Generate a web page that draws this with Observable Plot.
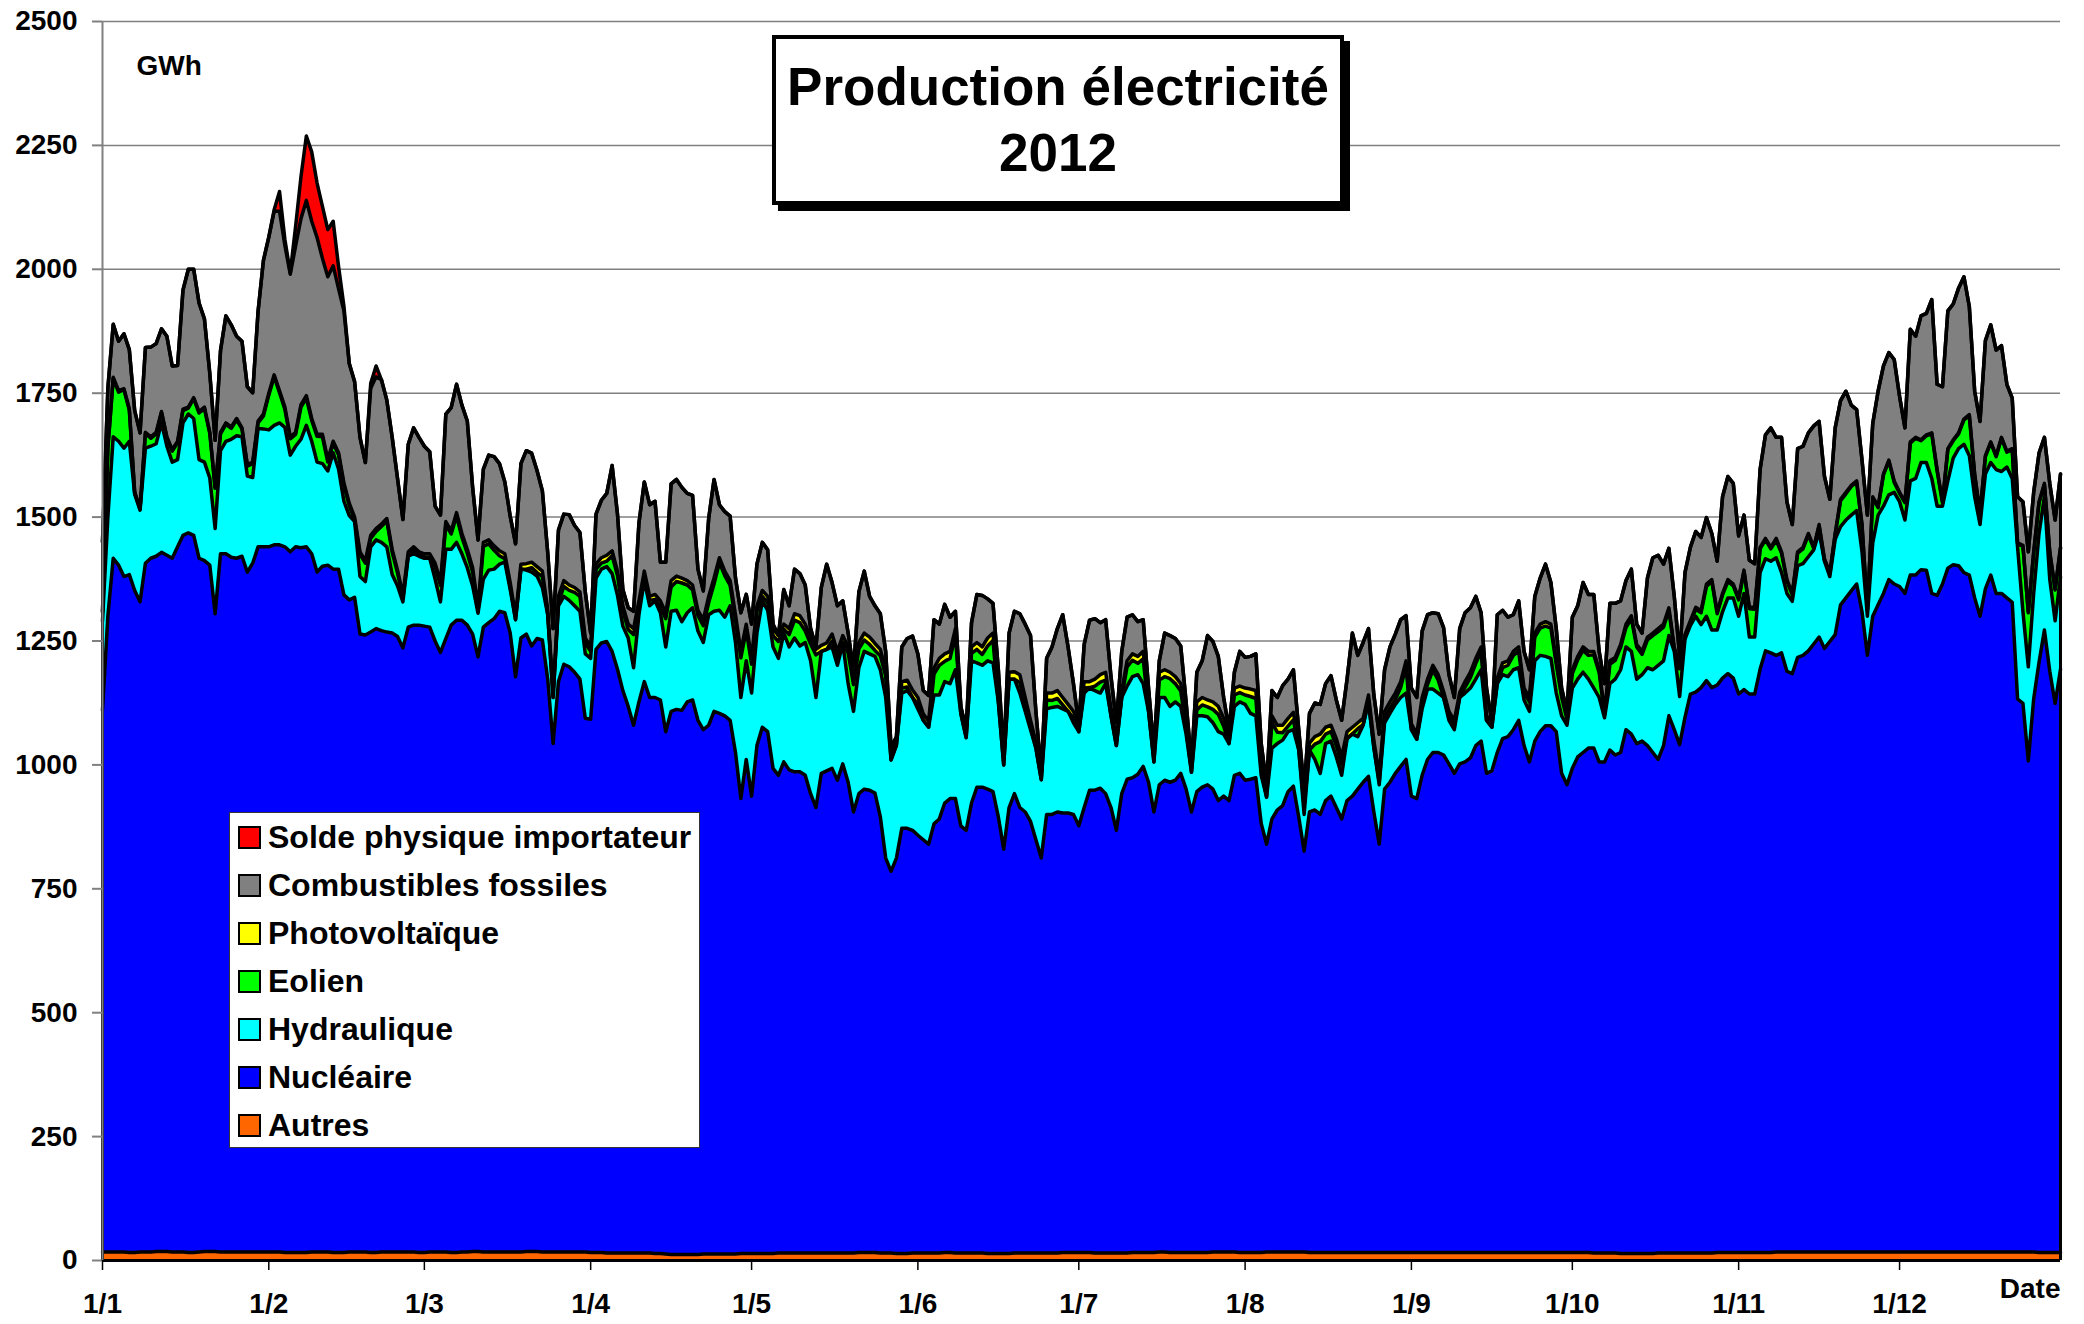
<!DOCTYPE html>
<html><head><meta charset="utf-8">
<script src="https://cdn.jsdelivr.net/npm/d3@7"></script>
<script src="https://cdn.jsdelivr.net/npm/@observablehq/plot@0.6"></script>
<style>
body{margin:0;background:#fff;}
#wrap{position:relative;width:2084px;height:1324px;font-family:"Liberation Sans",Arial,sans-serif;font-weight:bold;color:#000;}
#title{position:absolute;left:772px;top:35px;width:572px;height:170px;box-sizing:border-box;border:4px solid #000;box-shadow:6px 6px 0 #000;background:#fff;text-align:center;font-size:53px;line-height:66px;padding-top:15px;}
#legend{position:absolute;left:229px;top:812px;width:471px;height:336px;box-sizing:border-box;border:1.5px solid #333;background:#fff;padding-top:0px;}
.row{position:relative;height:48px;font-size:32px;line-height:48px;}
.sw{position:absolute;left:8px;top:13px;width:23px;height:23px;box-sizing:border-box;border:2.5px solid #000;}
.lb{position:absolute;left:38px;top:0;white-space:nowrap;}
</style></head><body><div id="wrap"></div>
<script>
// Series names (stack order bottom -> top) and colours
const seriesNames = ["Autres","Nucléaire","Hydraulique","Eolien","Photovoltaïque","Combustibles fossiles","Solde physique importateur"];
const seriesColors = ["#FF6600","#0000FF","#00FFFF","#00FF00","#FFFF00","#808080","#FF0000"];
const legendOrder = ["Solde physique importateur","Combustibles fossiles","Photovoltaïque","Eolien","Hydraulique","Nucléaire","Autres"];
const yTicks = [0,250,500,750,1000,1250,1500,1750,2000,2250,2500];
const monthLabels = ["1/1","1/2","1/3","1/4","1/5","1/6","1/7","1/8","1/9","1/10","1/11","1/12"];

// Daily values 2012 (GWh), one line per month
const autres = [
17,17,17,17,17,16,16,17,17,17,18,18,18,17,17,17,16,16,17,18,18,18,17,17,17,17,17,17,17,17,17,
17,17,17,16,16,16,16,16,17,17,17,17,16,16,16,17,17,17,17,16,16,17,17,17,17,17,17,17,16,
16,17,17,17,17,16,16,17,17,18,18,17,17,17,17,17,17,17,17,18,18,18,17,17,17,17,17,17,17,17,17,
16,16,16,15,15,15,15,15,15,15,15,15,14,14,13,12,12,12,12,12,12,13,13,13,13,13,13,13,14,14,
14,14,14,14,14,15,15,15,15,15,15,15,15,15,15,15,15,15,15,15,16,16,16,16,15,15,15,14,14,14,15,
15,15,15,15,15,16,16,15,15,15,15,15,15,14,14,14,14,14,15,15,15,15,15,15,15,15,15,16,16,16,
16,16,16,15,15,15,15,15,15,15,16,16,16,16,16,17,17,16,16,16,16,16,16,16,16,17,17,17,17,17,16,
16,16,16,16,17,17,17,17,17,17,17,17,16,16,16,16,16,16,16,16,16,16,16,16,16,16,16,16,16,16,16,
16,16,16,16,16,16,16,16,16,16,16,16,16,16,16,16,16,16,16,16,16,16,16,16,16,16,16,16,16,16,
16,16,16,16,15,15,15,15,15,14,14,14,14,14,14,14,15,15,15,15,15,15,15,15,15,15,15,16,16,16,16,
16,16,16,16,16,16,16,17,17,17,17,17,17,17,17,17,17,17,17,17,17,17,17,17,17,17,17,17,17,17,
17,17,17,17,17,17,17,17,17,17,17,17,17,17,17,17,17,17,17,17,17,17,17,17,17,17,16,16,16,16,16];

// Top of the blue band (Autres + Nucléaire)
const nucleaireTop = [
1110,1300,1417,1403,1380,1384,1352,1329,1407,1417,1421,1429,1423,1417,1440,1463,1468,1463,1417,1412,1403,1305,1426,1426,1419,1417,1421,1389,1407,1440,1440,
1440,1444,1444,1440,1430,1440,1438,1440,1426,1389,1401,1403,1395,1395,1343,1333,1338,1264,1262,1268,1275,1271,1268,1266,1259,1236,1278,1282,1282,
1280,1278,1250,1227,1255,1282,1292,1292,1282,1264,1218,1278,1287,1295,1310,1307,1266,1178,1256,1264,1240,1255,1252,1173,1043,1168,1203,1198,1187,1173,1094,
1092,1233,1246,1249,1229,1193,1150,1118,1080,1127,1168,1136,1136,1131,1067,1108,1112,1110,1127,1131,1090,1071,1080,1108,1104,1099,1090,1025,932,1011,
937,1039,1076,1067,993,979,1006,990,986,986,979,942,914,983,988,993,969,1002,965,905,942,951,949,943,895,812,785,812,872,872,868,
858,849,840,881,891,923,932,932,877,868,923,955,955,951,946,895,830,914,942,914,905,886,849,812,900,900,905,903,903,900,
877,914,949,949,953,942,914,868,942,971,974,981,997,965,905,960,969,965,969,983,951,905,946,955,960,951,928,937,928,979,983,
969,971,974,882,840,891,909,918,946,957,895,826,905,909,900,928,937,914,891,928,937,951,965,977,905,840,951,965,983,997,1011,
937,932,979,1011,1025,1025,1020,1002,983,1002,1006,1014,1039,1048,983,988,1025,1053,1057,1071,1090,1039,1006,1048,1067,1079,1079,1067,983,960,
993,1016,1025,1034,1034,1006,1006,1030,1020,1025,1071,1062,1043,1048,1039,1025,1011,1039,1099,1071,1041,1096,1143,1147,1156,1170,1156,1161,1175,1184,1175,
1143,1152,1143,1143,1193,1230,1226,1221,1226,1189,1184,1217,1221,1230,1244,1258,1235,1249,1263,1323,1337,1351,1365,1309,1221,1300,1323,1346,1374,1365,
1360,1346,1383,1383,1394,1393,1346,1342,1365,1397,1404,1402,1388,1383,1337,1300,1355,1383,1346,1346,1337,1328,1133,1124,1008,1133,1207,1272,1189,1124,1193];

// Top of the cyan band (… + Hydraulique)
const hydrauliqueTop = [
1290,1500,1662,1653,1639,1653,1546,1514,1639,1643,1648,1690,1643,1611,1616,1690,1708,1699,1616,1611,1579,1477,1634,1653,1657,1664,1662,1583,1580,1679,1678,
1676,1685,1690,1681,1625,1643,1657,1685,1653,1611,1608,1593,1630,1597,1532,1503,1491,1380,1370,1440,1454,1449,1440,1384,1361,1329,1421,1426,1421,
1417,1417,1375,1329,1435,1435,1449,1426,1398,1361,1306,1375,1393,1395,1405,1409,1354,1293,1395,1393,1389,1381,1358,1303,1136,1321,1340,1332,1321,1310,1224,
1215,1377,1395,1400,1386,1342,1280,1256,1196,1303,1372,1321,1331,1307,1238,1310,1312,1289,1307,1317,1270,1247,1303,1310,1312,1298,1321,1247,1136,1210,
1145,1266,1331,1312,1238,1215,1266,1238,1256,1240,1247,1210,1136,1229,1233,1238,1201,1245,1164,1108,1196,1229,1224,1219,1192,1136,1010,1040,1145,1150,1136,
1113,1090,1076,1141,1141,1168,1164,1192,1104,1055,1210,1206,1201,1210,1206,1127,1000,1173,1173,1145,1108,1071,1034,970,1113,1116,1118,1113,1108,1085,
1067,1145,1155,1150,1145,1164,1099,1039,1136,1159,1178,1182,1164,1108,1006,1136,1136,1118,1127,1118,1062,985,1099,1099,1097,1085,1067,1062,1043,1118,1127,
1122,1104,1099,979,935,1034,1043,1050,1067,1071,1030,900,1030,1011,983,1043,1048,1016,979,1053,1062,1057,1080,1127,1035,960,1085,1104,1122,1136,1145,
1071,1052,1113,1153,1153,1145,1136,1090,1071,1136,1145,1155,1173,1192,1090,1076,1164,1182,1178,1192,1196,1131,1108,1210,1221,1219,1215,1145,1099,1080,
1155,1173,1187,1173,1155,1136,1095,1164,1173,1192,1238,1229,1173,1182,1196,1192,1201,1210,1261,1229,1138,1254,1281,1300,1283,1300,1272,1272,1309,1337,1337,
1300,1346,1258,1258,1388,1416,1411,1418,1388,1346,1330,1402,1406,1420,1434,1470,1411,1380,1455,1481,1494,1504,1513,1430,1300,1448,1504,1522,1545,1550,
1531,1494,1573,1578,1610,1610,1578,1522,1522,1573,1619,1638,1647,1624,1541,1485,1587,1610,1596,1592,1601,1578,1439,1309,1198,1346,1467,1541,1374,1291,1379];

// Top of the green + yellow bands (… + Eolien + Photovoltaïque)
const eolienPvTop = [
1310,1640,1782,1755,1759,1718,1551,1518,1671,1662,1671,1713,1662,1636,1653,1718,1722,1741,1713,1722,1671,1560,1671,1690,1682,1699,1680,1606,1611,1694,1708,
1750,1787,1755,1722,1662,1671,1727,1745,1699,1667,1667,1616,1653,1630,1569,1528,1500,1430,1412,1463,1477,1486,1497,1435,1393,1343,1430,1440,1430,
1426,1426,1407,1370,1491,1472,1509,1467,1435,1398,1319,1449,1454,1442,1432,1426,1368,1298,1400,1406,1409,1400,1391,1310,1145,1340,1372,1363,1358,1349,1256,
1238,1405,1418,1423,1432,1391,1321,1284,1275,1331,1391,1340,1344,1331,1307,1372,1381,1377,1372,1363,1312,1293,1340,1377,1418,1391,1372,1303,1229,1284,
1215,1321,1352,1340,1275,1261,1284,1275,1305,1301,1284,1256,1233,1238,1245,1264,1229,1261,1238,1173,1247,1266,1258,1245,1233,1192,1020,1050,1168,1171,1150,
1136,1099,1085,1196,1215,1224,1229,1275,1108,1065,1238,1247,1238,1256,1266,1136,1010,1187,1187,1182,1136,1090,1043,975,1145,1145,1150,1136,1122,1108,
1071,1168,1168,1173,1182,1187,1108,1043,1145,1210,1224,1219,1229,1122,1020,1187,1192,1187,1178,1164,1090,990,1127,1136,1131,1127,1118,1094,1057,1155,1159,
1155,1153,1150,1006,945,1099,1080,1080,1094,1106,1045,930,1043,1057,1062,1076,1080,1053,1016,1062,1076,1085,1094,1136,1043,979,1108,1127,1145,1168,1210,
1080,1062,1136,1173,1201,1182,1145,1108,1090,1145,1168,1187,1215,1238,1099,1085,1173,1206,1210,1229,1238,1155,1136,1266,1284,1289,1284,1210,1145,1100,
1192,1219,1238,1229,1229,1192,1108,1210,1217,1243,1284,1301,1243,1229,1258,1266,1275,1284,1317,1238,1198,1263,1291,1318,1311,1365,1374,1309,1346,1374,1365,
1337,1393,1318,1318,1439,1457,1439,1457,1430,1374,1346,1430,1439,1467,1439,1485,1416,1388,1467,1536,1550,1564,1573,1485,1314,1541,1522,1587,1615,1573,
1550,1531,1652,1661,1656,1666,1670,1596,1531,1638,1656,1670,1698,1707,1587,1508,1624,1652,1624,1661,1633,1638,1448,1443,1309,1430,1531,1568,1430,1355,1439];

// Photovoltaïque (thin yellow band)
const photovoltaique = [
2,2,2,3,2,2,3,2,2,3,3,2,2,3,3,3,2,2,3,3,2,2,3,3,3,3,2,3,3,4,4,
4,4,4,5,4,4,5,5,4,4,5,5,4,4,5,5,6,5,5,6,6,5,5,6,6,6,6,7,6,
6,7,7,8,7,6,7,8,8,9,9,8,8,9,10,10,9,8,10,11,11,12,11,10,11,12,12,11,10,9,10,
9,10,11,12,10,9,10,11,12,10,9,8,10,11,12,13,11,10,9,10,11,12,13,12,10,9,10,12,13,12,
12,11,12,13,14,12,10,12,13,14,14,12,11,12,13,14,15,14,12,11,13,14,15,14,13,12,10,11,13,14,15,
14,13,12,13,14,15,14,13,12,11,13,14,15,16,15,14,13,14,15,16,15,14,12,13,14,15,16,15,14,13,
14,13,12,14,15,16,15,14,13,12,13,14,15,16,17,16,14,13,14,15,16,17,16,15,14,15,16,16,15,14,13,
14,15,16,15,14,13,14,15,16,15,14,13,14,15,15,14,13,14,15,14,13,12,13,14,14,13,12,13,13,12,11,
12,11,12,11,10,11,12,11,10,10,11,11,10,9,10,10,11,10,9,8,9,10,9,8,8,9,8,7,8,8,
8,7,7,8,7,6,7,7,6,6,7,6,5,6,6,5,6,6,5,5,4,5,5,4,4,5,4,4,3,4,4,
4,3,3,4,3,3,3,4,3,3,3,3,3,3,2,3,3,3,2,3,3,2,3,2,2,3,3,2,2,3,
2,2,3,2,2,2,2,3,2,2,2,2,2,3,2,2,2,2,2,2,2,2,2,2,2,2,2,2,2,2,2];

// Solde physique importateur (red)
const solde = [
0,0,0,0,0,0,0,0,0,0,0,0,0,0,0,0,0,0,0,0,0,0,0,0,0,0,0,0,0,0,0,
0,3,40,12,3,40,85,130,140,110,105,95,90,45,10,0,0,0,0,10,22,0,0,0,0,0,0,0,0,
0,0,0,0,0,0,0,0,0,0,0,0,0,0,0,0,0,0,0,0,0,0,0,0,0,0,0,0,0,0,0,
0,0,0,0,0,0,0,0,0,0,0,0,0,0,0,0,0,0,0,0,0,0,0,0,0,0,0,0,0,0,
0,0,0,0,0,0,0,0,0,0,0,0,0,0,0,0,0,0,0,0,0,0,0,0,0,0,0,0,0,0,0,
0,0,0,0,0,0,0,0,0,0,0,0,0,0,0,0,0,0,0,0,0,0,0,0,0,0,0,0,0,0,
0,0,0,0,0,0,0,0,0,0,0,0,0,0,0,0,0,0,0,0,0,0,0,0,0,0,0,0,0,0,0,
0,0,0,0,0,0,0,0,0,0,0,0,0,0,0,0,0,0,0,0,0,0,0,0,0,0,0,0,0,0,0,
0,0,0,0,0,0,0,0,0,0,0,0,0,0,0,0,0,0,0,0,0,0,0,0,0,0,0,0,0,0,
0,0,0,0,0,0,0,0,0,0,0,0,0,0,0,0,0,0,0,0,0,0,0,0,0,0,0,0,0,0,0,
0,0,0,0,0,0,0,0,0,0,0,0,0,0,0,0,0,0,0,0,0,0,0,0,0,0,0,0,0,0,
0,0,0,0,0,0,0,0,0,0,0,0,0,0,0,0,0,0,0,0,0,0,0,0,0,0,0,0,0,0,0];

// Overall top of the stack (all sources incl. imports)
const totalTop = [
1450,1760,1889,1855,1870,1838,1715,1670,1842,1843,1850,1880,1865,1805,1806,1958,2000,2000,1932,1900,1790,1655,1836,1906,1888,1865,1855,1763,1751,1915,2018,
2065,2120,2157,2060,1993,2087,2187,2269,2237,2174,2127,2080,2097,2006,1926,1810,1773,1661,1610,1770,1805,1777,1736,1661,1578,1495,1647,1680,1661,
1643,1632,1522,1504,1708,1721,1768,1726,1694,1560,1454,1597,1625,1622,1608,1571,1502,1446,1608,1634,1629,1594,1553,1428,1275,1474,1506,1505,1483,1469,1349,
1266,1506,1534,1548,1604,1506,1354,1317,1310,1488,1571,1525,1532,1409,1409,1567,1576,1560,1548,1544,1395,1351,1497,1576,1525,1511,1502,1377,1307,1344,
1284,1405,1449,1434,1284,1261,1354,1321,1395,1386,1363,1275,1238,1358,1405,1368,1321,1331,1266,1192,1349,1391,1340,1321,1305,1229,1035,1057,1238,1255,1260,
1224,1150,1140,1293,1284,1324,1298,1310,1118,1071,1287,1344,1342,1335,1326,1192,1017,1266,1310,1305,1284,1261,1108,983,1215,1238,1275,1303,1238,1164,
1080,1243,1292,1295,1287,1293,1178,1085,1229,1298,1303,1289,1293,1155,1030,1210,1266,1261,1255,1240,1127,997,1187,1210,1261,1249,1219,1136,1071,1187,1229,
1217,1219,1224,1043,960,1150,1136,1160,1173,1192,1071,950,1104,1125,1122,1164,1180,1131,1090,1173,1266,1221,1247,1275,1141,1062,1192,1238,1264,1293,1301,
1155,1136,1270,1303,1307,1305,1277,1182,1136,1275,1307,1317,1340,1307,1155,1080,1303,1312,1298,1303,1331,1229,1192,1340,1377,1405,1368,1275,1155,1108,
1298,1321,1368,1344,1344,1229,1164,1326,1326,1331,1372,1395,1284,1266,1377,1418,1423,1405,1437,1340,1220,1388,1439,1471,1459,1499,1467,1411,1541,1582,1568,
1462,1504,1413,1406,1596,1666,1680,1661,1661,1531,1485,1638,1643,1670,1684,1693,1582,1536,1680,1735,1754,1726,1717,1615,1504,1689,1754,1805,1832,1818,
1744,1680,1879,1865,1906,1911,1939,1768,1763,1916,1930,1962,1985,1925,1754,1693,1856,1888,1837,1846,1768,1740,1541,1531,1430,1550,1629,1661,1568,1494,1587];

// ---- build the long table from the readings ----
const dates = d3.utcDays(new Date(Date.UTC(2012,0,1)), new Date(Date.UTC(2013,0,1)));
const nucleaire = nucleaireTop.map((v,i) => Math.max(0, v - autres[i]));
const hydraulique = hydrauliqueTop.map((v,i) => Math.max(0, v - nucleaireTop[i]));
const eolien = eolienPvTop.map((v,i) => Math.max(0, v - photovoltaique[i] - hydrauliqueTop[i]));
const fossiles = totalTop.map((v,i) => Math.max(0, v - solde[i] - hydrauliqueTop[i] - eolien[i] - photovoltaique[i]));
const bySeries = {
  "Autres": autres, "Nucléaire": nucleaire, "Hydraulique": hydraulique, "Eolien": eolien,
  "Photovoltaïque": photovoltaique, "Combustibles fossiles": fossiles, "Solde physique importateur": solde
};
const table = [];
for (const s of seriesNames) bySeries[s].forEach((v,i) => table.push({date: dates[i], serie: s, value: v}));
const edges = [{date: dates[0], top: totalTop[0]}, {date: dates[dates.length-1], top: totalTop[totalTop.length-1]}];
const monthStarts = monthLabels.map((_, m) => new Date(Date.UTC(2012, m, 1)));

const chart = Plot.plot({
  width: 2084, height: 1324,
  marginLeft: 102, marginRight: 24, marginTop: 21, marginBottom: 64,
  x: {type: "utc", domain: [dates[0], dates[dates.length-1]], label: null},
  y: {domain: [0, 2500], label: null},
  color: {domain: seriesNames, range: seriesColors},
  style: {fontFamily: "'Liberation Sans', Arial, sans-serif", fontWeight: "bold", fontSize: "28px", color: "#000", background: "transparent", overflow: "visible"},
  marks: [
    Plot.ruleY(yTicks.slice(1), {stroke: "#808080", strokeWidth: 1.5}),
    Plot.areaY(table, Plot.stackY({x: "date", y: "value", z: "serie", fill: "serie", order: seriesNames, curve: "linear"})),
    Plot.lineY(table, Plot.stackY2({x: "date", y: "value", z: "serie", order: seriesNames, stroke: "#000", strokeWidth: 3.5, strokeLinejoin: "round"})),
    Plot.ruleX(edges, {x: "date", y1: 0, y2: "top", stroke: "#000", strokeWidth: 3}),
    Plot.ruleY([0], {stroke: "#000", strokeWidth: 3}),
    Plot.ruleX(edges.slice(0,1), {x: "date", y1: 0, y2: 2500, stroke: "#808080", strokeWidth: 2}),
    Plot.axisY({ticks: yTicks, tickFormat: (d) => String(d), tickSize: 10, tickPadding: 15, stroke: "#808080", strokeWidth: 2, fontSize: 28, fontWeight: "bold", fill: "#000", label: null}),
    Plot.axisX({ticks: monthStarts, tickFormat: (d) => monthLabels[d.getUTCMonth()], tickSize: 10, tickPadding: 23, stroke: "#000", strokeWidth: 1.5, fontSize: 28, fontWeight: "bold", fill: "#000", label: null}),
    Plot.text(["GWh"], {frameAnchor: "top-left", dx: 34, dy: 34, textAnchor: "start", lineAnchor: "top", fontSize: 28, fontWeight: "bold", fill: "#000"}),
    Plot.text(["Date"], {frameAnchor: "bottom-right", dy: 18, textAnchor: "end", lineAnchor: "top", fontSize: 28, fontWeight: "bold", fill: "#000"})
  ]
});

const wrap = document.getElementById("wrap");
wrap.appendChild(chart);

const title = document.createElement("div");
title.id = "title";
title.innerHTML = "Production électricité<br>2012";
wrap.appendChild(title);

const legend = document.createElement("div");
legend.id = "legend";
for (const name of legendOrder) {
  const row = document.createElement("div"); row.className = "row";
  const sw = document.createElement("div"); sw.className = "sw";
  sw.style.background = seriesColors[seriesNames.indexOf(name)];
  const lb = document.createElement("div"); lb.className = "lb"; lb.textContent = name;
  row.appendChild(sw); row.appendChild(lb); legend.appendChild(row);
}
wrap.appendChild(legend);
</script>
</body></html>
